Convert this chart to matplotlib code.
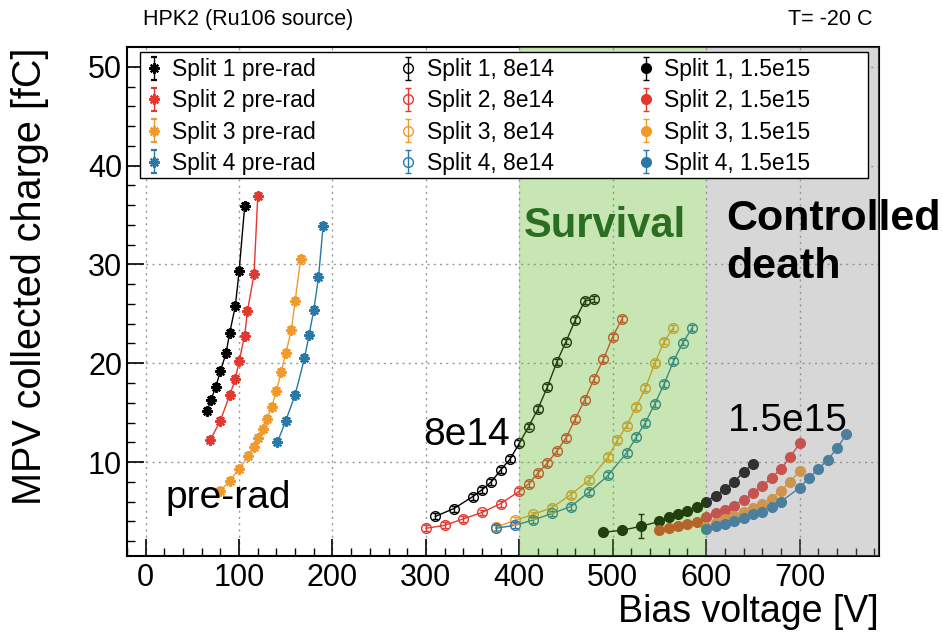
import matplotlib
matplotlib.use("Agg")
from matplotlib import pyplot as plt
from matplotlib.patches import Rectangle

plt.rcParams['font.family'] = ['Liberation Sans', 'DejaVu Sans']

# pre-rad
v_pre1 = [66, 70, 75, 80, 86, 90, 96, 100, 106]
q_pre1 = [15.2, 16.3, 17.6, 19.2, 21.0, 23.1, 25.8, 29.3, 35.9]
v_pre2 = [69, 80, 90, 96, 100, 106, 109, 116, 120]
q_pre2 = [12.2, 14.2, 16.8, 18.4, 20.2, 22.8, 25.3, 29.0, 36.9]
v_pre3 = [80, 90, 100, 110, 116, 120, 126, 130, 135, 140, 145, 150, 156, 160, 166]
q_pre3 = [7.1, 8.1, 9.3, 10.6, 11.5, 12.4, 13.3, 14.4, 15.6, 17.2, 19.1, 21.0, 23.4, 26.3, 30.6]
v_pre4 = [141, 150, 160, 170, 175, 180, 185, 190]
q_pre4 = [12.0, 14.2, 16.8, 20.5, 22.9, 25.4, 28.7, 33.9]

# 8e14
v_8_1 = [310, 330, 350, 360, 370, 380, 390, 400, 410, 420, 430, 440, 450, 460, 470, 480]
q_8_1 = [4.5, 5.3, 6.5, 7.2, 8.0, 9.2, 10.3, 11.9, 13.6, 15.4, 17.6, 20.1, 22.2, 24.4, 26.3, 26.5]
v_8_2 = [300, 320, 340, 360, 380, 400, 410, 420, 430, 440, 450, 460, 470, 480, 490, 500, 510]
q_8_2 = [3.3, 3.6, 4.25, 4.9, 5.8, 7.05, 7.8, 8.9, 9.9, 11.1, 12.45, 14.4, 16.3, 18.4, 20.4, 22.7, 24.5]
v_8_3 = [375, 395, 415, 435, 455, 475, 495, 505, 515, 525, 535, 545, 555, 565]
q_8_3 = [3.4, 4.1, 4.7, 5.4, 6.7, 8.2, 10.5, 12.2, 13.7, 15.6, 17.5, 20.0, 22.2, 23.6]
v_8_4 = [375, 395, 415, 435, 455, 475, 495, 515, 525, 535, 545, 555, 565, 575, 585]
q_8_4 = [3.3, 3.6, 4.15, 4.8, 5.5, 7.0, 8.65, 10.95, 12.5, 14.0, 15.9, 17.9, 20.2, 22.1, 23.55]

# 1.5e15
v_15_1 = [490, 510, 530, 550, 560, 570, 580, 590, 600, 610, 620, 630, 640, 650]
q_15_1 = [2.9, 3.1, 3.5, 4.0, 4.4, 4.7, 5.1, 5.5, 6.0, 6.6, 7.3, 8.0, 9.0, 9.8]
e_15_1 = [0.3, 0.3, 1.2, 0.3, 0.3, 0.3, 0.3, 0.3, 0.3, 0.3, 0.3, 0.3, 0.3, 0.3]
v_15_2 = [550, 560, 570, 580, 590, 600, 610, 620, 630, 640, 650, 660, 670, 680, 690, 700]
q_15_2 = [3.1, 3.3, 3.5, 3.7, 3.9, 4.4, 4.8, 5.2, 5.6, 6.2, 6.9, 7.6, 8.4, 9.3, 10.5, 11.9]
v_15_3 = [600, 610, 620, 630, 640, 650, 660, 670, 680, 690, 700]
q_15_3 = [3.4, 3.8, 4.2, 4.5, 4.9, 5.4, 5.8, 6.3, 7.1, 8.0, 9.1]
v_15_4 = [600, 610, 620, 630, 640, 650, 660, 670, 680, 700, 710, 720, 730, 740, 750]
q_15_4 = [3.2, 3.5, 3.7, 4.0, 4.35, 4.7, 5.0, 5.5, 6.0, 7.4, 8.4, 9.3, 10.2, 11.4, 12.8]

colors = ["black", "#e4372f", "#f09a2d", "#2878a8"]
err = 0.3

fig = plt.figure(figsize=(9.42, 6.37), dpi=100)
ax = fig.add_axes([0.1348, 0.1272, 0.7983, 0.799])

def draw(v, q, c, marker, face, label, e=None):
    ax.plot(v, q, color=c, lw=1.0, zorder=2)
    return ax.errorbar(v, q, yerr=err if e is None else e, fmt='', linestyle='none', marker=marker,
                       color=c, mfc=face, mec=c,
                       ms=7.5 if marker != 'o' else 7, mew=1.6 if marker != 'o' else 1.0,
                       elinewidth=1.0, capsize=2.5, label=label, zorder=3)

star = (8, 2, 0)
handles = []
for i, (v, q) in enumerate([(v_pre1, q_pre1), (v_pre2, q_pre2), (v_pre3, q_pre3), (v_pre4, q_pre4)]):
    handles.append(draw(v, q, colors[i], star, colors[i], f"Split {i+1} pre-rad"))
for i, (v, q) in enumerate([(v_8_1, q_8_1), (v_8_2, q_8_2), (v_8_3, q_8_3), (v_8_4, q_8_4)]):
    handles.append(draw(v, q, colors[i], 'o', 'none', f"Split {i+1}, 8e14"))
for i, (v, q) in enumerate([(v_15_1, q_15_1), (v_15_2, q_15_2), (v_15_3, q_15_3), (v_15_4, q_15_4)]):
    handles.append(draw(v, q, colors[i], 'o', colors[i], f"Split {i+1}, 1.5e15", e_15_1 if i == 0 else None))

# shaded regions drawn over the data
ax.axvspan(400, 600, color=(98/255, 184/255, 41/255), alpha=0.35, lw=0, zorder=5)
ax.axvspan(600, 785, color=(0.553, 0.553, 0.553), alpha=0.35, lw=0, zorder=5)

ax.set_xlim(-20, 785)
ax.set_ylim(0.5, 52)
ax.set_xticks(range(0, 701, 100))
ax.set_xticks(range(-20, 785, 20), minor=True)
ax.set_yticks(range(10, 51, 10))
ax.set_yticks(range(2, 52, 2), minor=True)
ax.tick_params(which='both', direction='in', labelsize=22)
ax.tick_params(which='major', length=12, width=1.2)
ax.tick_params(which='minor', length=6, width=1.0)
ax.tick_params(axis='x', pad=5)
ax.grid(True, which='major', color='#999999', ls=(0, (1.5, 3)), lw=1.0, zorder=1)
ax.set_axisbelow(True)
for s in ax.spines.values():
    s.set_linewidth(1.5)

ax.set_xlabel("Bias voltage [V]", fontsize=27, loc='right', labelpad=1)
ax.set_ylabel("MPV collected charge [fC]", fontsize=28.5, loc='top', labelpad=28)

fig.text(0.152, 0.970, "HPK2 (Ru106 source)", fontsize=15.5, ha='left', va='center')
fig.text(0.926, 0.970, "T= -20 C", fontsize=15.5, ha='right', va='center')

ax.text(492, 33.9, "Survival", fontsize=30, fontweight='bold', color='#2a6e22',
        ha='center', va='center', zorder=7)
ax.text(621, 32.2, "Controlled\ndeath", fontsize=31, fontweight='bold', color='black',
        ha='left', va='center', linespacing=1.25, zorder=7, clip_on=False)
ax.text(88, 6.4, "pre-rad", fontsize=28, ha='center', va='center', zorder=7)
ax.text(343, 12.7, "8e14", fontsize=28, ha='center', va='center', zorder=7)
ax.text(687, 14.2, "1.5e15", fontsize=28, ha='center', va='center', zorder=7)

# legend frame spans wider than the columns
frame = Rectangle((0.017, 0.743), 0.968, 0.247, transform=ax.transAxes,
                  facecolor='white', edgecolor='black', lw=1.0, zorder=9)
ax.add_patch(frame)
leg = ax.legend(handles=handles, ncol=3, mode='expand', loc='upper left',
                bbox_to_anchor=(0.022, 0.743, 0.893, 0.244), borderaxespad=0, fontsize=16.5,
                frameon=False, handlelength=0.5, handletextpad=0.55, labelspacing=0.36,
                borderpad=0.2)
leg.set_zorder(10)

fig.savefig("out.png", dpi=100)
